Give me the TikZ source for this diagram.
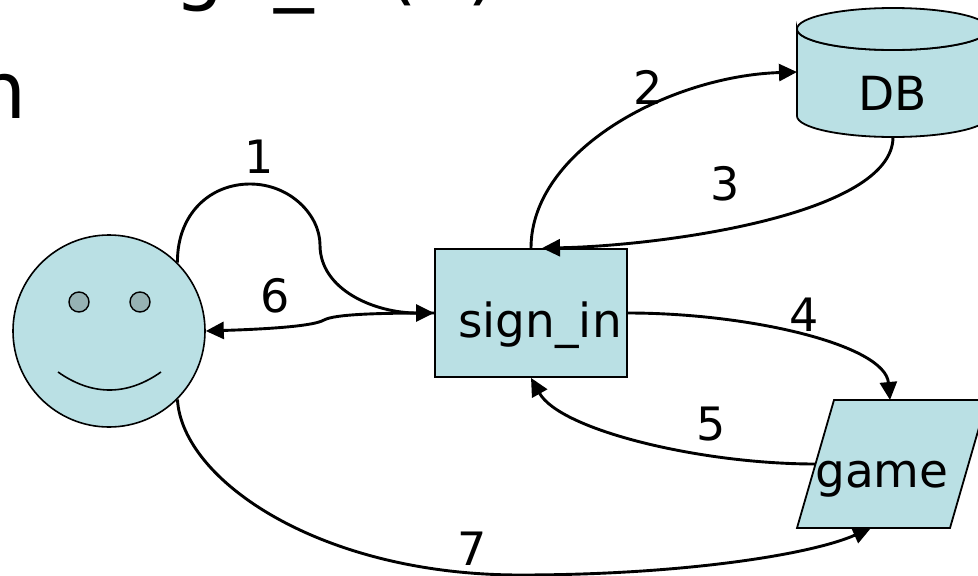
\documentclass[tikz,border=0pt]{standalone}
\usepackage{fontspec}
\setmainfont{DejaVu Sans}
\usepackage{tikz}
\usetikzlibrary{arrows.meta, calc}
\definecolor{cyanfill}{RGB}{186,224,228}
\definecolor{eyefill}{RGB}{150,178,180}

\begin{document}
\begin{tikzpicture}[x=1pt, y=-1pt,
		outline/.style={draw, fill=cyanfill, line width=1.8pt},
		face/.style={circle, draw, fill=cyanfill, line width=1.6pt, minimum size=192pt, inner sep=0pt},
		eye/.style={circle, draw, fill=eyefill, line width=1.4pt, minimum size=20pt, inner sep=0pt},
		box/.style={rectangle, draw, fill=cyanfill, line width=1.8pt, minimum width=192pt, minimum height=128pt, inner sep=0pt},
		txt/.style={inner sep=0pt, font=\fontsize{47}{56}\selectfont},
		num/.style={inner sep=0pt, font=\fontsize{46}{56}\selectfont},
		title/.style={inner sep=0pt, font=\fontsize{79}{95}\selectfont},
		flow/.style={line width=2.9pt, -{Triangle[length=18pt, width=17pt]}}]
		\useasboundingbox (0,0) rectangle (978,576);
		\clip (0,0) rectangle (978,576);
		\node[title, anchor=base west] (head) at (111,-5) {sign\_in(u)};
		\node[title, anchor=base west] (head2) at (-23.6,118) {n};
		% user
		\node[face] (user) at (109,331) {};
		\node[eye] (eyeL) at (79,302) {};
		\node[eye] (eyeR) at (140,302) {};
		\draw[line width=1.6pt] (58,372) .. controls (92,396) and (127,396) .. (161,372);
		% sign_in
		\node[box] (signin) at (531,313) {};
		\node[txt, anchor=base] (signin-lbl) at (540,337) {sign\_in};
		% DB
		\draw[outline] (797,29) -- (797,116) arc[start angle=180, end angle=0, x radius=96, y radius=21] -- (989,29) arc[start angle=0, end angle=180, x radius=96, y radius=21] -- cycle;
		\draw[outline] (893,29) ellipse [x radius=96, y radius=21];
		\node[txt] (db) at (893,93) {DB};
		% game
		\draw[outline] (834,400) -- (987,400) -- (950,528) -- (797,528) -- cycle;
		\node[txt, anchor=base] (game) at (882,487) {game};
		\coordinate (db-in) at (797,72);
		\coordinate (db-out) at (893,137);
		\coordinate (game-in) at (890,400);
		\coordinate (game-out) at (815,464);
		\coordinate (game-back) at (871,528);
		\coordinate (signin-in) at ($(signin.north)+(11,0)$);
		% flows
		\draw[flow] (user.45) .. controls (177,214) and (210,184) .. (250,184) .. controls (290,184) and (320,215) .. (320,245) .. controls (320,290) and (375,313) .. (signin.west);
		\draw[flow] (signin.west) .. controls (380,313) and (335,314) .. (324,320) .. controls (314,326) and (270,329) .. (user.east);
		\draw[flow] (signin.north) .. controls (531,150) and (670,76) .. (db-in);
		\draw[flow] (db-out) .. controls (893,215) and (660,246) .. (signin-in);
		\draw[flow] (signin.east) .. controls (750,313) and (885,345) .. (game-in);
		\draw[flow] (game-out) .. controls (700,464) and (560,430) .. (signin.south);
		\draw[flow] (user.-45) .. controls (182,480) and (320,575) .. (520,575) .. controls (680,575) and (810,555) .. (game-back);
		\node[num] (l1) at (259,157) {1};
		\node[num] (l2) at (648,87) {2};
		\node[num] (l3) at (725,184) {3};
		\node[num] (l4) at (804,315) {4};
		\node[num] (l5) at (711,424) {5};
		\node[num] (l6) at (275,296) {6};
		\node[num] (l7) at (472,549) {7};
	\end{tikzpicture}
\end{document}
